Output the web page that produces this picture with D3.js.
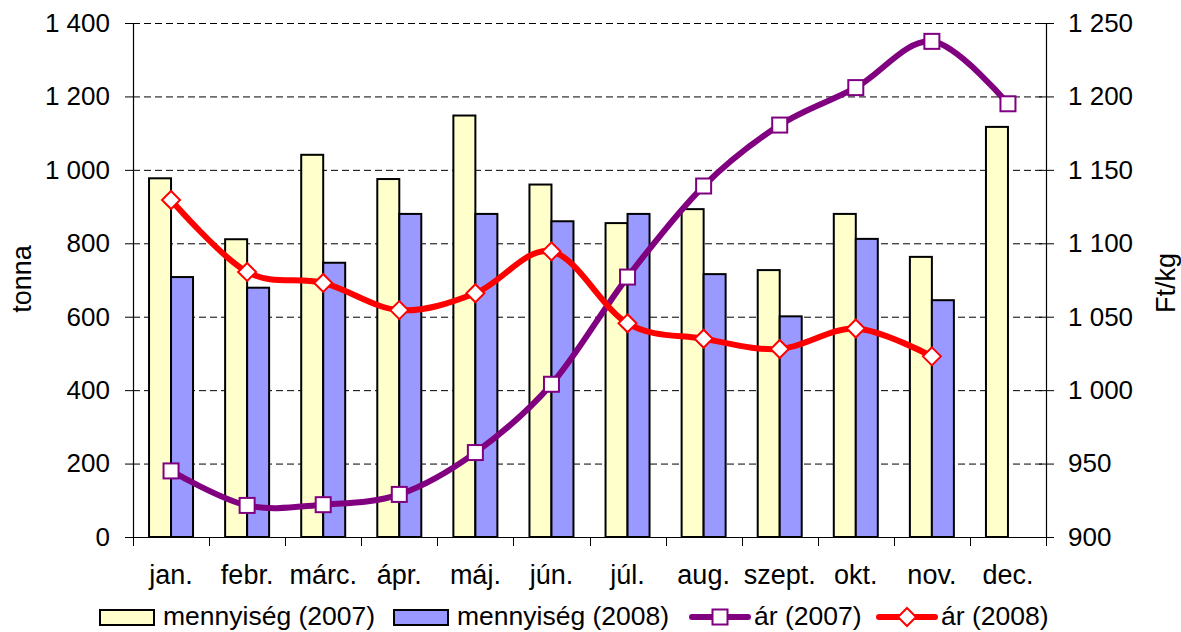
<!DOCTYPE html>
<html lang="hu">
<head>
    <meta charset="UTF-8">
    <script src="https://cdn.jsdelivr.net/npm/d3@7"></script>
    <title>mennyiség és ár</title>
    <style>
        body {
            margin: 0;
            background: #fff;
        }

        text {
            font-family: 'Liberation Sans', Arial, sans-serif;
            fill: #000;
        }
    </style>
</head>

<body>
    <div class="chart"></div>

    <script>
        const months = ["jan.", "febr.", "márc.", "ápr.", "máj.", "jún.", "júl.", "aug.", "szept.", "okt.", "nov.", "dec."];

        const qty2007 = [977, 811, 1041, 975, 1148, 960, 855, 893, 727, 880, 763, 1117];
        const qty2008 = [708, 679, 747, 880, 880, 860, 880, 716, 601, 812, 645, null];

        const price2007 = [945, 921.5, 922, 929, 957.5, 1004, 1077, 1139, 1180.5, 1206, 1237.5, 1195];
        const price2008 = [1129.5, 1080.5, 1073, 1054.5, 1066, 1094.5, 1045.5, 1035, 1028, 1042, 1023, null];

        const leftTicks = [0, 200, 400, 600, 800, 1000, 1200, 1400];
        const rightTicks = [900, 950, 1000, 1050, 1100, 1150, 1200, 1250];

        const width = 1181;
        const height = 632;
        const plot = { left: 133, right: 1046, top: 23, bottom: 537 };

        const svg = d3.select(".chart").append("svg")
            .attr("width", width)
            .attr("height", height);

        const fmt = d3.formatLocale({ decimal: ",", thousands: "\u00a0", grouping: [3], currency: ["", " Ft"] }).format(",d");

        const x = d3.scaleBand()
            .domain(months)
            .range([plot.left, plot.right]);

        const barWidth = 22;

        const yLeft = d3.scaleLinear()
            .domain([0, 1400])
            .range([plot.bottom, plot.top]);

        const yRight = d3.scaleLinear()
            .domain([900, 1250])
            .range([plot.bottom, plot.top]);

        // dashed grid lines
        svg.append("g")
            .selectAll("line")
            .data(leftTicks.slice(1))
            .enter()
            .append("line")
            .attr("x1", plot.left)
            .attr("x2", plot.right)
            .attr("y1", d => yLeft(d) + 0.5)
            .attr("y2", d => yLeft(d) + 0.5)
            .attr("stroke", "#000")
            .attr("stroke-width", 1)
            .attr("stroke-dasharray", "7,4");

        // bars
        const bars = svg.append("g");
        bars.selectAll(".b07")
            .data(months)
            .enter()
            .append("rect")
            .attr("x", d => x(d) + x.bandwidth() / 2 - barWidth)
            .attr("y", (d, i) => yLeft(qty2007[i]))
            .attr("width", barWidth)
            .attr("height", (d, i) => yLeft(0) - yLeft(qty2007[i]))
            .attr("fill", "#ffffcc")
            .attr("stroke", "#000")
            .attr("stroke-width", 2);

        bars.selectAll(".b08")
            .data(months.filter((d, i) => qty2008[i] != null))
            .enter()
            .append("rect")
            .attr("x", d => x(d) + x.bandwidth() / 2)
            .attr("y", (d, i) => yLeft(qty2008[i]))
            .attr("width", barWidth)
            .attr("height", (d, i) => yLeft(0) - yLeft(qty2008[i]))
            .attr("fill", "#9999ff")
            .attr("stroke", "#000")
            .attr("stroke-width", 2);

        // axes
        const leftAxis = d3.axisLeft(yLeft)
            .tickValues(leftTicks)
            .tickSize(8)
            .tickPadding(15)
            .tickFormat(fmt);

        const rightAxis = d3.axisRight(yRight)
            .tickValues(rightTicks)
            .tickSize(8)
            .tickPadding(14)
            .tickFormat(fmt);

        const bottomAxis = d3.axisBottom(x)
            .tickSize(0)
            .tickPadding(28);

        const gl = svg.append("g")
            .attr("transform", `translate(${plot.left},0)`)
            .call(leftAxis);

        const gr = svg.append("g")
            .attr("transform", `translate(${plot.right},0)`)
            .call(rightAxis);
        gr.selectAll(".tick line").attr("x1", -7);

        const gb = svg.append("g")
            .attr("transform", `translate(0,${plot.bottom})`)
            .call(bottomAxis);

        gb.select(".domain").attr("d", `M${plot.left - 8},0.5H${plot.right + 8}`);

        svg.append("g")
            .selectAll("line")
            .data(d3.range(13))
            .enter()
            .append("line")
            .attr("x1", i => Math.round(plot.left + i * x.step()) + 0.5)
            .attr("x2", i => Math.round(plot.left + i * x.step()) + 0.5)
            .attr("y1", plot.bottom)
            .attr("y2", plot.bottom + 9)
            .attr("stroke", "#000");

        [gl, gr, gb].forEach(g => {
            g.selectAll(".domain").attr("stroke", "#000").attr("stroke-width", 1.2);
            g.selectAll(".tick line").attr("stroke", "#000");
            g.selectAll("text")
                .style("font-family", "'Liberation Sans', Arial, sans-serif")
                .style("font-size", "26px")
                .attr("fill", "#000");
        });
        gb.selectAll("text").style("font-size", "27px");

        // axis titles
        svg.append("text")
            .attr("transform", "translate(31,279) rotate(-90)")
            .attr("text-anchor", "middle")
            .style("font-size", "27px")
            .text("tonna");

        svg.append("text")
            .attr("transform", "translate(1175,283) rotate(-90)")
            .attr("text-anchor", "middle")
            .style("font-size", "27px")
            .text("Ft/kg");

        // price lines
        const cx = i => x(months[i]) + x.bandwidth() / 2;

        const line = d3.line()
            .defined(d => d.v != null)
            .x(d => cx(d.i))
            .y(d => yRight(d.v))
            .curve(d3.curveCatmullRom.alpha(0));

        const series07 = price2007.map((v, i) => ({ i, v }));
        const series08 = price2008.map((v, i) => ({ i, v })).filter(d => d.v != null);

        svg.append("path")
            .attr("d", line(series07))
            .attr("fill", "none")
            .attr("stroke", "#800080")
            .attr("stroke-width", 6);

        svg.append("path")
            .attr("d", line(series08))
            .attr("fill", "none")
            .attr("stroke", "#ff0000")
            .attr("stroke-width", 6);

        const sq = 15;
        svg.append("g")
            .selectAll("rect")
            .data(series07)
            .enter()
            .append("rect")
            .attr("x", d => cx(d.i) - sq / 2)
            .attr("y", d => yRight(d.v) - sq / 2)
            .attr("width", sq)
            .attr("height", sq)
            .attr("fill", "#fff")
            .attr("stroke", "#800080")
            .attr("stroke-width", 2);

        const diamond = (px, py, r) => `M${px},${py - r}L${px + r},${py}L${px},${py + r}L${px - r},${py}Z`;

        svg.append("g")
            .selectAll("path")
            .data(series08)
            .enter()
            .append("path")
            .attr("d", d => diamond(cx(d.i), yRight(d.v), 9))
            .attr("fill", "#fff")
            .attr("stroke", "#ff0000")
            .attr("stroke-width", 2);

        // legend
        const legend = svg.append("g").attr("transform", "translate(0,617)");

        const legendItems = [
            { label: "mennyiség (2007)", kind: "bar", color: "#ffffcc", x: 100 },
            { label: "mennyiség (2008)", kind: "bar", color: "#9999ff", x: 394 },
            { label: "ár (2007)", kind: "square", color: "#800080", x: 690 },
            { label: "ár (2008)", kind: "diamond", color: "#ff0000", x: 877 }
        ];

        legendItems.forEach(item => {
            const g = legend.append("g").attr("transform", `translate(${item.x},0)`);
            if (item.kind === "bar") {
                g.append("rect")
                    .attr("x", 0)
                    .attr("y", -7)
                    .attr("width", 54)
                    .attr("height", 15)
                    .attr("fill", item.color)
                    .attr("stroke", "#000")
                    .attr("stroke-width", 2);
                g.append("text")
                    .attr("x", 63)
                    .attr("y", 8)
                    .style("font-size", "26.5px")
                    .text(item.label);
            } else {
                g.append("line")
                    .attr("x1", 2)
                    .attr("x2", 58)
                    .attr("y1", 0)
                    .attr("y2", 0)
                    .attr("stroke", item.color)
                    .attr("stroke-width", 6)
                    .attr("stroke-linecap", "round");
                if (item.kind === "square") {
                    g.append("rect")
                        .attr("x", 30 - sq / 2)
                        .attr("y", -sq / 2)
                        .attr("width", sq)
                        .attr("height", sq)
                        .attr("fill", "#fff")
                        .attr("stroke", item.color)
                        .attr("stroke-width", 2);
                } else {
                    g.append("path")
                        .attr("d", diamond(30, 0, 9))
                        .attr("fill", "#fff")
                        .attr("stroke", item.color)
                        .attr("stroke-width", 2);
                }
                g.append("text")
                    .attr("x", 64)
                    .attr("y", 8)
                    .style("font-size", "26.5px")
                    .text(item.label);
            }
        });
    </script>
</body>
</html>
